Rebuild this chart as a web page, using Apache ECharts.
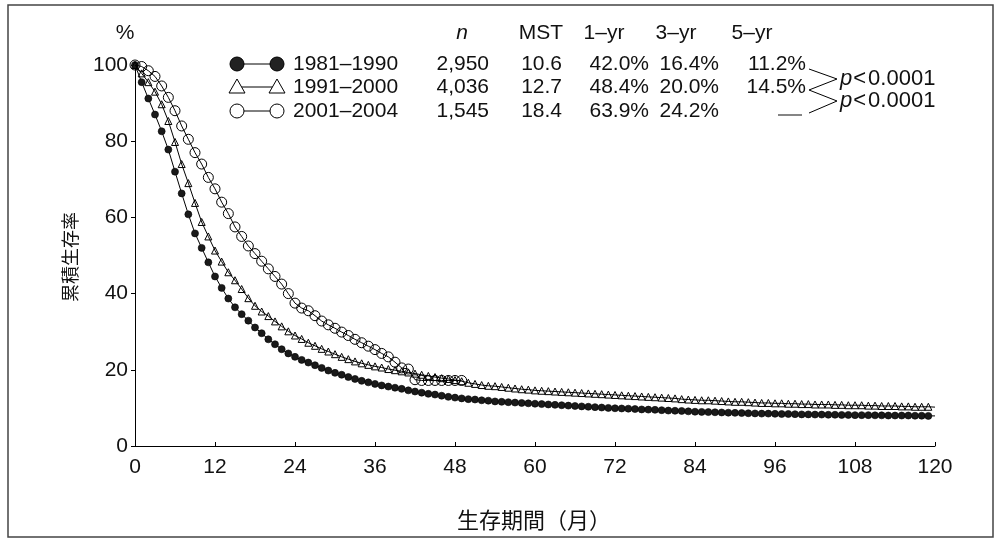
<!DOCTYPE html>
<html><head><meta charset="utf-8">
<script src="https://cdn.jsdelivr.net/npm/echarts@6/dist/echarts.min.js"></script>
<style>html,body{margin:0;padding:0;background:#fff}#c{width:1001px;height:541px}</style>
</head><body><div id="c"></div>
<script>
// survival (%) at each month 0,1,2,...
const s1981 = [
 100,95.5,91.2,87,82.6,77.8,72,66.3,60.8,55.8,
 52,48.2,44.5,41.5,38.7,36.4,34.6,32.9,31.1,29.6,
 28.0,26.7,25.4,24.3,23.4,22.6,21.9,21.2,20.5,19.8,
 19.2,18.7,18.1,17.6,17.1,16.7,16.3,15.9,15.6,15.3,
 15.0,14.6,14.3,14.0,13.7,13.5,13.2,12.9,12.7,12.5,
 12.3,12.2,12.0,11.9,11.7,11.6,11.5,11.4,11.3,11.2,
 11.1,11.0,10.9,10.8,10.7,10.6,10.5,10.4,10.3,10.2,
 10.1,10.0,9.9,9.85,9.8,9.7,9.6,9.55,9.5,9.4,
 9.3,9.25,9.2,9.1,9.0,8.95,8.9,8.85,8.8,8.75,
 8.7,8.65,8.6,8.55,8.5,8.5,8.45,8.4,8.4,8.35,
 8.3,8.3,8.25,8.25,8.2,8.2,8.15,8.15,8.1,8.1,
 8.1,8.05,8.05,8.0,8.0,8.0,8.0,7.95,7.95,7.9,
 7.9];
const s1991 = [
 100,97.8,95.5,93,89.7,85.3,79.8,74,69,63.8,
 58.8,55,51.3,48.4,45.6,43.5,41.2,38.8,36.8,35.3,
 34.1,32.7,31.4,30.1,29.0,28.1,27.1,26.3,25.5,24.8,
 24.1,23.4,22.8,22.2,21.7,21.3,20.9,20.6,20.2,19.9,
 19.6,19.3,19.0,18.7,18.4,18.1,17.8,17.6,17.3,17.0,
 16.6,16.3,16.0,15.8,15.7,15.5,15.3,15.1,14.9,14.8,
 14.6,14.5,14.4,14.3,14.2,14.1,14.0,13.9,13.8,13.7,
 13.6,13.5,13.4,13.3,13.2,13.1,13.0,12.9,12.8,12.7,
 12.6,12.5,12.3,12.2,12.1,12.0,12.0,11.9,11.8,11.7,
 11.6,11.6,11.5,11.4,11.3,11.3,11.2,11.2,11.1,11.1,
 11.0,11.0,10.9,10.9,10.9,10.8,10.8,10.7,10.7,10.7,
 10.6,10.6,10.5,10.5,10.5,10.4,10.4,10.3,10.3,10.3,
 10.2];
const s2001 = [
 100,99.6,98.5,97,94.5,91.5,88,84,80.5,77,
 74,70.5,67.5,64,61,57.5,55,52.5,50.5,48.5,
 46.5,44.5,42.5,40,37.5,36.2,35.5,34.2,32.8,31.8,
 30.9,29.9,29,28,27.1,26.2,25.3,24.3,23.4,22.0,
 20.5,20.2,17.4,17.2,17.2,17.2,17.2,17.2,17.2,17.2];

const periods = ['1981\u20131990','1991\u20132000','2001\u20132004'];
const nVals = ['2,950','4,036','1,545'];
const mstVals = ['10.6','12.7','18.4'];
const yr1Vals = ['42.0%','48.4%','63.9%'];
const yr3Vals = ['16.4%','20.0%','24.2%'];
const yr5Vals = ['11.2%','14.5%',''];
const pVals = ['0.0001','0.0001'];
const xTicks = [0,12,24,36,48,60,72,84,96,108,120];
const yTicks = [0,20,40,60,80,100];

const FONT = '"Liberation Sans", Arial, Helvetica, sans-serif';
const JFONT = '"Noto Sans CJK JP", sans-serif';
const FS = 21;

function toData(arr, lastNoSymbol){
  return arr.map((v,i)=> (lastNoSymbol && i===arr.length-1) ? {value:[i,v], symbol:'none'} : [i,v]);
}

const chart = echarts.init(document.getElementById('c'), null, {renderer:'canvas'});

const rowY = [64, 87, 111];
const g = [];
// border
g.push({type:'rect', shape:{x:8,y:5,width:985,height:532}, style:{fill:'none', stroke:'#444', lineWidth:1.5}, silent:true});
// axis titles
g.push({type:'text', x:125, y:33, style:{text:'%', fontSize:FS, fontFamily:FONT, fill:'#111', align:'center', verticalAlign:'middle'}});
g.push({type:'text', x:70, y:257, rotation:Math.PI/2, style:{text:'累積生存率', fontSize:18, fontFamily:JFONT, fill:'#111', align:'center', verticalAlign:'middle'}});
g.push({type:'text', x:534, y:520, style:{text:'生存期間（月）', fontSize:22, fontFamily:JFONT, fill:'#111', align:'center', verticalAlign:'middle'}});
// header
const hdrY = 33;
g.push({type:'text', x:462, y:hdrY, style:{text:'n', fontSize:FS, fontStyle:'italic', fontFamily:FONT, fill:'#111', align:'center', verticalAlign:'middle'}});
[['MST',541],['1\u2013yr',604],['3\u2013yr',676],['5\u2013yr',752]].forEach(h=>{
  g.push({type:'text', x:h[1], y:hdrY, style:{text:h[0], fontSize:FS, fontFamily:FONT, fill:'#111', align:'center', verticalAlign:'middle'}});
});
// legend rows
for(let r=0;r<3;r++){
  const y = rowY[r];
  g.push({type:'line', shape:{x1:237,y1:y,x2:277,y2:y}, style:{stroke:'#000', lineWidth:1}});
  [237,277].forEach(cx=>{
    if(r===0) g.push({type:'circle', shape:{cx:cx,cy:y,r:7}, style:{fill:'#222', stroke:'#000', lineWidth:1}});
    if(r===1) g.push({type:'polygon', shape:{points:[[cx-8,y+6],[cx+8,y+6],[cx,y-8]]}, style:{fill:'#fff', stroke:'#000', lineWidth:1}});
    if(r===2) g.push({type:'circle', shape:{cx:cx,cy:y,r:7}, style:{fill:'#fff', stroke:'#000', lineWidth:1}});
  });
  const cols = [[periods[r],293,'left'],[nVals[r],489,'right'],[mstVals[r],562,'right'],[yr1Vals[r],649,'right'],[yr3Vals[r],719,'right'],[yr5Vals[r],806,'right']];
  cols.forEach(c=>{
    if(c[0]) g.push({type:'text', x:c[1], y:y, style:{text:c[0], fontSize:FS, fontFamily:FONT, fill:'#111', align:c[2], verticalAlign:'middle'}});
  });
}
// dash for missing 5-yr
g.push({type:'line', shape:{x1:778,y1:115,x2:802,y2:115}, style:{stroke:'#333', lineWidth:1.2}});
// p-value zigzag
g.push({type:'polyline', shape:{points:[[809,69],[837,79],[809,90],[837,101],[809,113]]}, style:{stroke:'#000', lineWidth:1, fill:'none'}});
[79,101].forEach((y,k)=>{
  g.push({type:'text', x:840, y:y, style:{text:'{i|p}{lt|<}' + pVals[k], fontSize:22, fontFamily:FONT, fill:'#111', align:'left', verticalAlign:'middle',
    rich:{i:{fontStyle:'italic', fontSize:22, fontFamily:FONT, fill:'#111'},
          lt:{fontSize:22, fontFamily:FONT, fill:'#111', padding:[0,2,0,1]}}}});
});

const lineCommon = {type:'line', lineStyle:{color:'#000', width:1}, emphasis:{disabled:true}, animation:false};

const option = {
  animation:false,
  backgroundColor:'#fff',
  grid:{left:135, right:66, top:65, bottom:95},
  xAxis:{type:'value', min:0, max:120, interval:12,
    axisLine:{show:true, lineStyle:{color:'#000', width:1}},
    axisTick:{show:true, inside:true, length:4, lineStyle:{color:'#000'}},
    axisLabel:{color:'#111', fontSize:FS, fontFamily:FONT, margin:11, showMaxLabel:true, showMinLabel:true,
      formatter:v=> xTicks.includes(v) ? String(v) : ''},
    splitLine:{show:false}},
  yAxis:{type:'value', min:0, max:100, interval:20,
    axisLine:{show:true, lineStyle:{color:'#000', width:1}},
    axisTick:{show:true, inside:false, length:4, lineStyle:{color:'#000'}},
    axisLabel:{color:'#111', fontSize:FS, fontFamily:FONT, margin:7,
      formatter:v=> yTicks.includes(v) ? String(v) : ''},
    splitLine:{show:false}},
  series:[
    Object.assign({}, lineCommon, {name:periods[0], data:toData(s1981,true), symbol:'circle', symbolSize:7, z:3,
      itemStyle:{color:'#1a1a1a', borderColor:'#000', borderWidth:0.6}}),
    Object.assign({}, lineCommon, {name:periods[1], data:toData(s1991,true), symbol:'triangle', symbolSize:7, z:4,
      itemStyle:{color:'rgba(255,255,255,0)', borderColor:'#000', borderWidth:1}}),
    Object.assign({}, lineCommon, {name:periods[2], data:toData(s2001,false), symbol:'circle', symbolSize:10, z:5,
      itemStyle:{color:'rgba(255,255,255,0)', borderColor:'#000', borderWidth:1}})
  ],
  graphic:g
};
chart.setOption(option);
</script></body></html>
